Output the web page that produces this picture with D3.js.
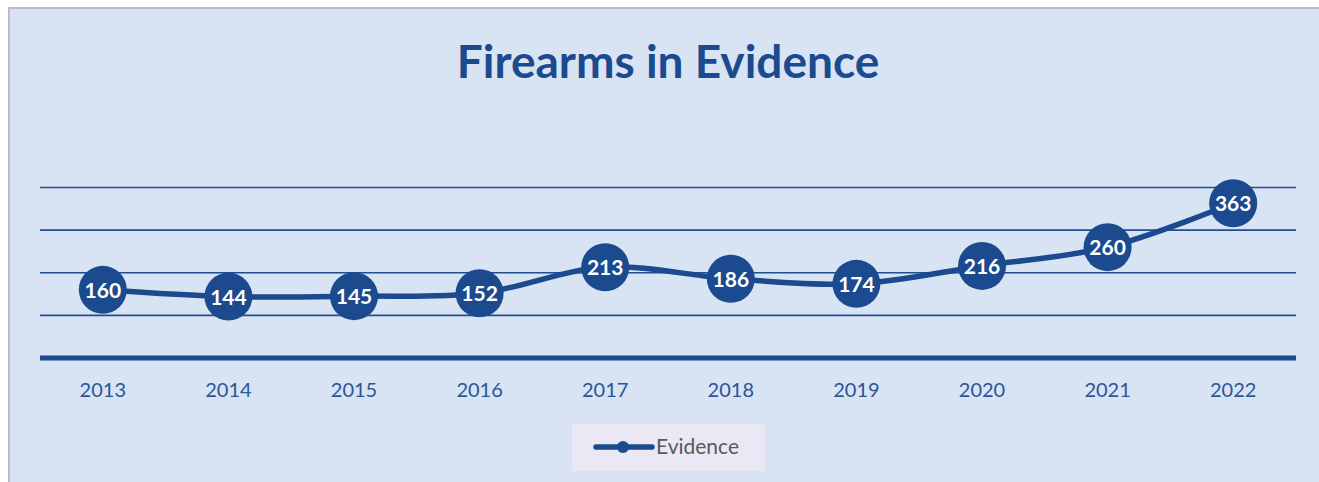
<!DOCTYPE html>
<html>
<head>
<meta charset="utf-8">
<script src="https://cdn.jsdelivr.net/npm/d3@7"></script>
<style>
  body { margin: 0; background: #fff; overflow: hidden; }
  svg { display: block; }
</style>
</head>
<body>
<script>
// data
var years = ["2013", "2014", "2015", "2016", "2017", "2018", "2019", "2020", "2021", "2022"];
var evidence = [160, 144, 145, 152, 213, 186, 174, 216, 260, 363];
var gridTicks = [100, 200, 300, 400];
var seriesName = "Evidence";

var width = 1319,
    height = 482;

var blue = "#1b4a8e";

var svg = d3.select("body").append("svg")
    .attr("width", width)
    .attr("height", height);

// chart area, grey frame only on top and left
svg.append("rect")
    .attr("x", 9).attr("y", 8)
    .attr("width", width - 9).attr("height", height - 8)
    .style("fill", "#d8e3f3");
svg.append("path")
    .attr("d", "M9," + height + "V8H" + width)
    .style("fill", "none")
    .style("stroke", "#bdbdbd")
    .style("stroke-width", 2);

svg.append("text")
    .attr("x", 668).attr("y", 78)
    .attr("text-anchor", "middle")
    .style("font-family", "Lato, 'Open Sans', sans-serif")
    .style("font-weight", "bold")
    .style("font-size", "46px")
    .style("fill", "#1b4a8e")
    .text("Firearms in Evidence");

var x = d3.scalePoint()
    .domain(years)
    .range([40, 1296])
    .padding(0.5);

var y = d3.scaleLinear()
    .domain([0, 400])
    .range([358, 187.5]);

// gridlines
svg.selectAll(".grid")
    .data(gridTicks)
    .enter().append("line")
    .attr("x1", 40).attr("x2", 1296)
    .attr("y1", function(d) { return y(d); })
    .attr("y2", function(d) { return y(d); })
    .style("stroke", "#1f4e93")
    .style("stroke-width", 1.6);

// thick baseline
svg.append("line")
    .attr("x1", 40).attr("x2", 1296)
    .attr("y1", y(0)).attr("y2", y(0))
    .style("stroke", blue)
    .style("stroke-width", 5);

// x labels
svg.selectAll(".xl")
    .data(years)
    .enter().append("text")
    .attr("x", function(d) { return x(d); })
    .attr("y", 397)
    .attr("text-anchor", "middle")
    .style("font-family", "Lato, 'Open Sans', sans-serif")
    .style("font-size", "20px")
    .style("fill", "#2c5597")
    .text(function(d) { return d; });

var line = d3.line()
    .x(function(d, i) { return x(years[i]); })
    .y(function(d) { return y(d); })
    .curve(d3.curveCatmullRom.alpha(0.5));

svg.append("path")
    .datum(evidence)
    .attr("d", line)
    .style("fill", "none")
    .style("stroke", blue)
    .style("stroke-width", 5.5)
    .style("stroke-linejoin", "round");

var pts = svg.selectAll(".pt")
    .data(evidence)
    .enter().append("g")
    .attr("transform", function(d, i) { return "translate(" + x(years[i]) + "," + y(d) + ")"; });

pts.append("circle")
    .attr("r", 24)
    .style("fill", blue);

pts.append("text")
    .attr("y", 8)
    .attr("text-anchor", "middle")
    .style("font-family", "Lato, 'Open Sans', sans-serif")
    .style("font-weight", "bold")
    .style("font-size", "21px")
    .style("fill", "#fff")
    .text(function(d) { return d; });

// legend
var lg = svg.append("g");
lg.append("rect")
    .attr("x", 572).attr("y", 424)
    .attr("width", 193).attr("height", 47)
    .style("fill", "#e9e8f4");
lg.append("line")
    .attr("x1", 596).attr("x2", 652)
    .attr("y1", 447).attr("y2", 447)
    .style("stroke", blue)
    .style("stroke-width", 5.5)
    .style("stroke-linecap", "round");
lg.append("circle")
    .attr("cx", 623).attr("cy", 447)
    .attr("r", 6)
    .style("fill", blue);
lg.append("text")
    .attr("x", 656).attr("y", 454)
    .style("font-family", "Lato, 'Open Sans', sans-serif")
    .style("font-size", "21px")
    .style("fill", "#595959")
    .text(seriesName);
</script>
</body>
</html>
